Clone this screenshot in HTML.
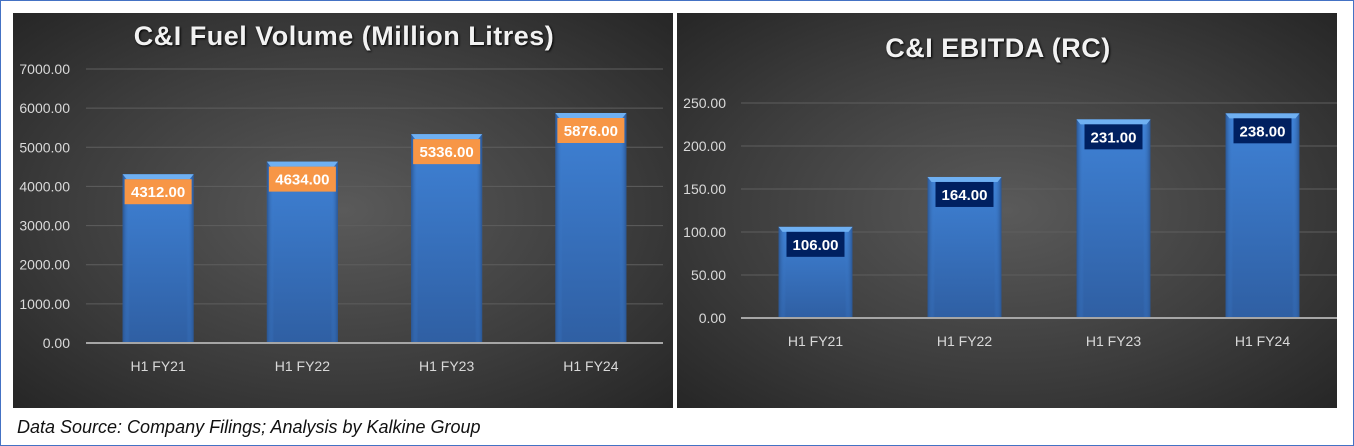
<!DOCTYPE html>
<html><head><meta charset="utf-8"><style>
body{margin:0;width:1354px;height:446px;background:#fff;overflow:hidden;font-family:"Liberation Sans",sans-serif}
#frame{position:absolute;left:0;top:0;width:1352px;height:444px;border:1px solid #4472c4}
.panel{position:absolute;top:13px;height:395px;background:radial-gradient(ellipse at 50% 50%,#5a5a5a 0%,#3c3c3c 60%,#262626 100%)}
#foot{position:absolute;left:17px;top:417px;font-style:italic;font-size:18px;color:#111}
</style></head><body>
<div id="frame"></div>
<div class="panel" style="left:13px;width:660px"></div>
<div class="panel" style="left:677px;width:660px"></div>
<svg width="1354" height="446" style="position:absolute;left:0;top:0" id="svg">
<defs>
<linearGradient id="bar" x1="0" y1="0" x2="0" y2="1"><stop offset="0" stop-color="#3f82d6"/><stop offset="1" stop-color="#2f5fa3"/></linearGradient>
<linearGradient id="barside" x1="0" y1="0" x2="1" y2="0"><stop offset="0" stop-color="#2a5592"/><stop offset="0.1" stop-color="#3f82d6" stop-opacity="0"/><stop offset="0.9" stop-color="#3f82d6" stop-opacity="0"/><stop offset="1" stop-color="#2a5592"/></linearGradient>
</defs>
</svg>
<div id="foot">Data Source: Company Filings; Analysis by Kalkine Group</div>
<script>
const categories=["H1 FY21","H1 FY22","H1 FY23","H1 FY24"];
const fuelValues=[4312,4634,5336,5876];
const ebitdaValues=[106,164,231,238];
const fuelTicks=[0,1000,2000,3000,4000,5000,6000,7000];
const ebitdaTicks=[0,50,100,150,200,250];
const NS="http://www.w3.org/2000/svg";
const svg=document.getElementById('svg');
function mk(t,a,p){const e=document.createElementNS(NS,t);for(const k in a)e.setAttribute(k,a[k]);(p||svg).appendChild(e);return e;}
function chart(o){
  const g=mk('g',{});
  
  
  const y=v=>o.y0-(v-0)/(o.max)*(o.y0-o.yTop);
  const bw=(o.x1-o.x0)/o.cats.length;
  const t=mk('text',{x:o.titleX,y:o.titleY,'text-anchor':'middle',fill:'#f2f2f2','font-size':27,'font-weight':'bold',style:'text-shadow:1px 1px 2px #000;letter-spacing:0.5px'},g);
  t.textContent=o.title;
  
  
  o.ticks.forEach(v=>{
    if(v>0){const l=mk('line',{x1:o.x0,x2:o.x1,y1:y(v),y2:y(v),stroke:'#5e5e5e','stroke-width':1},g);
      
      }
    const tx=mk('text',{x:o.labX,y:y(v)+5,'text-anchor':'end',fill:'#d9d9d9','font-size':14},g);
    tx.textContent=v.toFixed(2);
    
    
  });
  o.cats.forEach((c,i)=>{
    const cx=o.x0+bw*(i+0.5),w=o.barW,top=y(o.vals[i]);
    const b=mk('rect',{x:cx-w/2,y:top,width:w,height:o.y0-top,fill:'url(#bar)'},g);
    
    
    mk('rect',{x:cx-w/2,y:top,width:w,height:o.y0-top,fill:'url(#barside)'},g);
    mk('polygon',{points:`${cx-w/2},${top} ${cx+w/2},${top} ${cx+w/2-4},${top+5} ${cx-w/2+4},${top+5}`,fill:'#6fb0f2'},g);
    const lw=o.boxW;
    const bx=mk('rect',{x:cx-lw/2,y:top+5,width:lw,height:25,fill:o.boxFill},g);
    
    
    const vt=mk('text',{x:cx,y:top+23,'text-anchor':'middle',fill:'#fff','font-size':15,'font-weight':'bold'},g);
    vt.textContent=o.vals[i].toFixed(2);
    
    
    const xt=mk('text',{x:cx,y:o.y0+28,'text-anchor':'middle',fill:'#d9d9d9','font-size':14},g);
    xt.textContent=c;
    
    
  });
  const ax=mk('line',{x1:o.x0,x2:o.x1,y1:o.y0,y2:o.y0,stroke:'#a6a6a6','stroke-width':2},g);
  
  
}
chart({name:'fuel-volume-chart',title:'C&I Fuel Volume (Million Litres)',titleX:344,titleY:45,cats:categories,vals:fuelValues,ticks:fuelTicks,max:7000,x0:86,x1:663,y0:343,yTop:69,labX:70,barW:71,boxW:67,boxFill:'#f79646'});
chart({name:'ebitda-chart',title:'C&I EBITDA (RC)',titleX:998,titleY:57,cats:categories,vals:ebitdaValues,ticks:ebitdaTicks,max:250,x0:741,x1:1337,y0:318,yTop:103,labX:726,barW:74,boxW:58,boxFill:'#002060'});
</script>
</body></html>
